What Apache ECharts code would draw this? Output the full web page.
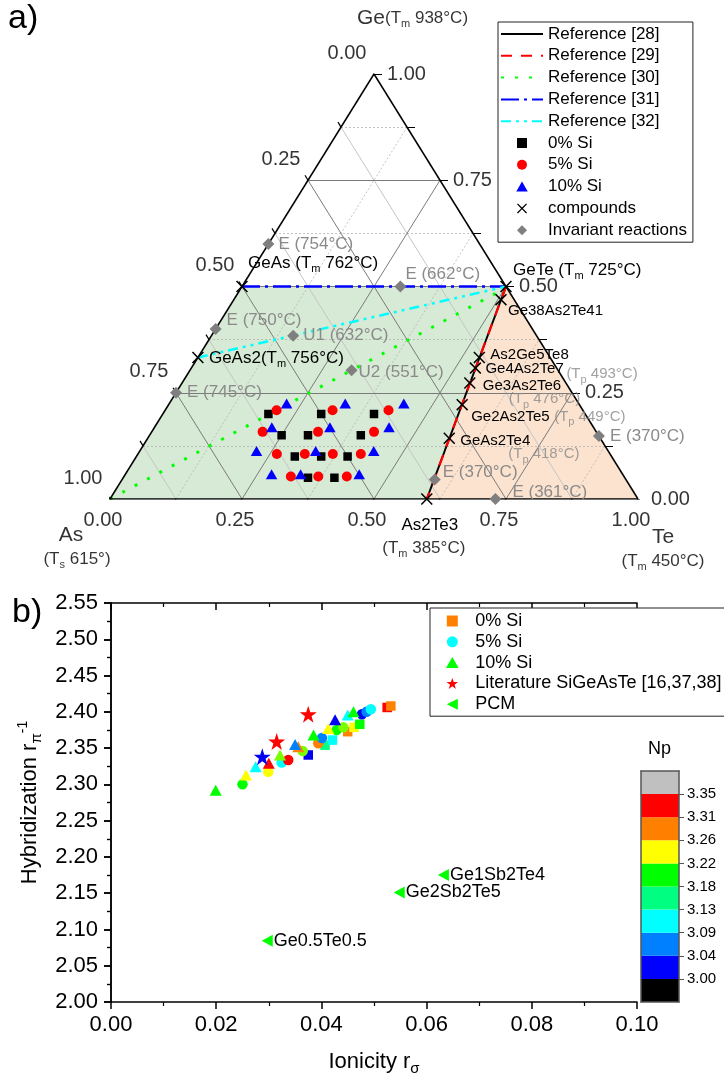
<!DOCTYPE html>
<html>
<head>
<meta charset="utf-8">
<title>GeAsTe ternary / hybridization map</title>
<script src="https://cdn.jsdelivr.net/npm/echarts@6/dist/echarts.min.js"></script>
<style>
html,body{margin:0;background:#fff;overflow:hidden;}
.pane{position:absolute;left:0;top:0;width:724px;height:1082px;}
#scat{width:780px;}
</style>
</head>
<body>
<div id="tern" class="pane"></div>
<div id="scat" class="pane"></div>
<script>
var FONT = 'Liberation Sans, Arial, sans-serif';

// ---------- a) ternary, compositions are [Ge, Te] fractions (As = 1 - Ge - Te)
var si0 = [[0.20,0.20],[0.15,0.25],[0.20,0.30],[0.15,0.30],[0.10,0.30],[0.10,0.35],[0.05,0.35],[0.05,0.40],[0.10,0.40],[0.15,0.40],[0.20,0.40]];
var si5 = [[0.209,0.211],[0.158,0.210],[0.158,0.315],[0.209,0.317],[0.209,0.423],[0.158,0.421],[0.106,0.263],[0.106,0.316],[0.106,0.369],[0.106,0.422],[0.053,0.316],[0.053,0.368],[0.053,0.422]];
var si10 = [[0.225,0.222],[0.169,0.222],[0.113,0.221],[0.058,0.277],[0.058,0.332],[0.113,0.333],[0.169,0.332],[0.225,0.333],[0.225,0.444],[0.169,0.444],[0.113,0.443],[0.058,0.443]];

var compoundNames = ['GeAs','GeAs2','GeTe','Ge38As2Te41','As2Ge5Te8','Ge4As2Te7','Ge3As2Te6','Ge2As2Te5','GeAs2Te4','As2Te3'];
var compounds = [[0.5,0],[0.333,0],[0.5,0.5],[0.469,0.506],[0.333,0.533],[0.308,0.538],[0.273,0.545],[0.222,0.556],[0.143,0.571],[0,0.6]];
var compoundTm = ['762°C','756°C','725°C','','','','','','','385°C'];
var compoundTp = ['','','','','','493°C','476°C','449°C','418°C',''];

var invNames = ['E','E','E','U1','U2','E','E','E','E'];
var invTemps = ['754°C','662°C','750°C','632°C','551°C','745°C','370°C','370°C','361°C'];
var invariant = [[0.6,0],[0.5,0.3],[0.4,0],[0.384,0.155],[0.303,0.306],[0.25,0],[0.148,0.852],[0.046,0.592],[0,0.73]];

var ref28 = [[0.5,0.5],[0,0.6]];
var ref29 = [[0.5,0.5],[0,0.6]];
var ref30 = [[0,0],[0.49,0.495]];
var ref31 = [[0.5,0],[0.5,0.5]];
var ref32 = [[0.333,0],[0.5,0.5]];

var greenRegion = [[0,0],[0.5,0],[0.5,0.5],[0,0.6]];
var peachRegion = [[0.5,0.5],[0,1],[0,0.6]];

var majorTicks = [0.25,0.5,0.75];
var minorTicks = [0.125,0.375,0.625,0.875];
var edgeTicks = [0,0.125,0.25,0.375,0.5,0.625,0.75,0.875,1];
var tickVals = [0,0.25,0.5,0.75,1];
var tickLabels = ['0.00','0.25','0.50','0.75','1.00'];

// ---------- b) scatter, [ionicity, hybridization, Np]
var np0 = [[0.0375,2.3405,3.02],[0.0407,2.354,3.153],[0.0421,2.361,3.11],[0.0450,2.3726,3.284],[0.0462,2.3786,3.24],[0.0473,2.3828,3.197],[0.0525,2.406,3.328],[0.0532,2.408,3.284]];
var np5 = [[0.0250,2.300,3.197],[0.0299,2.3174,3.24],[0.03245,2.330,3.11],[0.0337,2.3336,3.328],[0.03645,2.346,3.218],[0.0394,2.3566,3.284],[0.0401,2.364,3.066],[0.0429,2.375,3.197],[0.0442,2.3786,3.218],[0.0477,2.3966,3.02],[0.0486,2.400,3.066],[0.0494,2.4035,3.11]];
var np10 = [[0.0199,2.292,3.197],[0.02567,2.313,3.24],[0.0275,2.3243,3.11],[0.0300,2.329,3.328],[0.03213,2.3405,3.218],[0.0356,2.352,3.284],[0.0350,2.355,3.066],[0.0385,2.368,3.197],[0.0413,2.377,3.24],[0.0426,2.389,3.02],[0.0450,2.3956,3.11],[0.0461,2.400,3.197]];
var litStars = [[0.02876,2.338,3.02],[0.0315,2.359,3.328],[0.0375,2.3966,3.328]];
var pcmNames = ['Ge1Sb2Te4','Ge2Sb2Te5','Ge0.5Te0.5'];
var pcm = [[0.0632,2.175],[0.0548,2.151],[0.0297,2.0845]];

var cbColors = ['#000000','#0000ff','#0080ff','#00ffff','#00ff80','#00ff00','#ffff00','#ff8000','#ff0000','#c0c0c0'];
var cbTicks = ['3.00','3.04','3.09','3.13','3.18','3.22','3.26','3.31','3.35'];

// ---------- helpers
var W = 528, H = 425;
function tp(p){ return [p[1] + p[0] / 2, p[0]]; }
function seg(a, b){ return {coords: [tp(a), tp(b)]}; }
function tick(p, dx, dy){ var q = tp(p); return {coords: [q, [q[0] + dx / W, q[1] - dy / H]]}; }

var RICH = {
  s: {fontSize: 11, verticalAlign: 'bottom'},
  big: {fontSize: 21}
};

// symbols (paths keep their aspect in the legend)
var SQ = 'path://M0,0L10,0L10,10L0,10Z';
var TRI = 'path://M5,0L10,8.7L0,8.7Z';
var DIA = 'path://M5,0L10,5L5,10L0,5Z';
var XSYM = 'path://M0,1.1L1.1,0L6,4.9L10.9,0L12,1.1L7.1,6L12,10.9L10.9,12L6,7.1L1.1,12L0,10.9L4.9,6Z';
var STAR = 'path://M50,0L61.8,35.3L98.9,35.3L68.9,57.1L80.3,92.7L50,70.8L19.7,92.7L31.1,57.1L1.1,35.3L38.2,35.3Z';
var LTRI = 'path://M0,5L10,0L10,10Z';

function polygonSeries(region, fill){
  return {
    type: 'custom', silent: true, z: 1,
    data: region.map(tp),
    encode: {x: 0, y: 1},
    renderItem: function(params, api){
      if (params.dataIndex !== 0) return null;
      return {type: 'polygon', shape: {points: region.map(function(p){ return api.coord(tp(p)); })}, style: {fill: fill}};
    }
  };
}
function linesSeries(data, style, z){
  return {type: 'lines', coordinateSystem: 'cartesian2d', polyline: false, silent: true, z: z || 2, data: data,
    lineStyle: Object.assign({opacity: 1, curveness: 0}, style)};
}
function txt(p, text, dx, dy, align, extra){
  return {value: tp(p), label: Object.assign({formatter: text, offset: [dx, dy], align: align || 'left'}, extra || {})};
}

// grid lines
var majorLines = [], minorSolid = [], minorDot = [];
majorTicks.forEach(function(c){
  majorLines.push(seg([c,0],[c,1-c]), seg([0,c],[1-c,c]), seg([1-c,0],[0,1-c]));
});
minorTicks.forEach(function(c){
  minorDot.push(seg([c,0],[c,1-c]), seg([0,c],[1-c,c]));
  minorSolid.push(seg([1-c,0],[0,1-c]));
});
var frame = [seg([0,0],[1,0]), seg([1,0],[0,1]), seg([0,0],[0,1])];
var ticks = [];
edgeTicks.forEach(function(c){
  ticks.push(tick([0,c], -3, 5), tick([c,1-c], 8, 0), tick([1-c,0], -3, -5));
});

// text items
var GRAY = '#8a8a8a';
var texts = [];
tickVals.forEach(function(c, i){
  texts.push(txt([0,c], tickLabels[i], -7, 21, 'center', {fontSize: 20}));
  texts.push(txt([c,1-c], tickLabels[i], 13, 0, 'left', {fontSize: 20}));
  texts.push(txt([1-c,0], tickLabels[i], -27, -21, 'center', {fontSize: 20}));
});
texts.push(txt([1,0], '{big|Ge}(T{s|m} 938°C)', -17, -56, 'left'));
texts.push(txt([0,0], '{big|As}', -39, 36, 'center'));
texts.push(txt([0,0], '(T{s|s} 615°)', -33, 60, 'center'));
texts.push(txt([0,1], '{big|Te}', 14, 38, 'left'));
texts.push(txt([0,1], '(T{s|m} 450°C)', 25, 62, 'center'));

var compLabelPos = [[6,-23],[11,1],[7,-16],[7,11],[11,-3],[10,1],[13,3],[9,12],[11,3],[3,26]];
var tpLabelPos = {5: [91,6], 6: [39,16], 7: [92,12], 8: [59,16]};
var compData = compounds.map(function(p, i){
  var name = compoundNames[i], lab;
  if (i === 9) {
    texts.push(txt(p, '(T{s|m} ' + compoundTm[i] + ')', -3, 49, 'center'));
    lab = {formatter: name, offset: compLabelPos[i], align: 'center'};
  } else if (compoundTm[i]) {
    lab = {formatter: name + (i === 1 ? '' : ' ') + '(T{s|m} ' + compoundTm[i] + ')', offset: compLabelPos[i], align: 'left'};
  } else {
    lab = {formatter: name, offset: compLabelPos[i], align: 'left', fontSize: 15};
  }
  if (compoundTp[i]) {
    texts.push(txt(p, '(T{s|p} ' + compoundTp[i] + ')', tpLabelPos[i][0], tpLabelPos[i][1], 'left', {color: GRAY, fontSize: 15}));
  }
  return {value: tp(p), label: lab};
});
var invLabelPos = [[10,0],[5,-12],[11,-9],[10,0],[7,2],[11,0],[11,0],[8,-7],[17,-7]];
var invData = invariant.map(function(p, i){
  return {value: tp(p), label: {formatter: invNames[i] + ' (' + invTemps[i] + ')', offset: invLabelPos[i], align: 'left'}};
});

var baseLabel = {show: true, position: 'inside', verticalAlign: 'middle', color: '#000', fontSize: 17, lineHeight: 22, fontFamily: FONT, rich: RICH};

function refLine(name, data, color, width, type){
  return {name: name, type: 'line', data: data.map(tp), symbol: 'none', z: 3, silent: true,
    lineStyle: {color: color, width: width, type: type}, itemStyle: {color: color}};
}
function lineLegend(name){ return {name: name, itemStyle: {opacity: 0}}; }

var chartT = echarts.init(document.getElementById('tern'));
chartT.setOption({
  animation: false,
  textStyle: {fontFamily: FONT},
  grid: {left: 110, top: 74, width: W, height: H},
  xAxis: {type: 'value', min: 0, max: 1, show: false},
  yAxis: {type: 'value', min: 0, max: 1, show: false},
  graphic: [{type: 'text', left: 8, top: 2, style: {text: 'a)', fontSize: 34, fill: '#000', fontFamily: FONT}}],
  legend: {
    orient: 'vertical', left: 498, top: 22, itemWidth: 42, itemHeight: 10, itemGap: 1.8,
    padding: [2, 6, 2, 2], backgroundColor: '#fff', borderColor: '#222', borderWidth: 1,
    textStyle: {fontSize: 17, lineHeight: 20, color: '#000', fontFamily: FONT},
    data: [lineLegend('Reference [28]'), lineLegend('Reference [29]'), lineLegend('Reference [30]'), lineLegend('Reference [31]'), lineLegend('Reference [32]'),
      '0% Si','5% Si','10% Si','compounds','Invariant reactions']
  },
  series: [
    polygonSeries(greenRegion, '#d7ead5'),
    polygonSeries(peachRegion, '#fbe3cf'),
    linesSeries(minorDot, {color: '#b4b4b4', width: 0.8, type: [2, 2]}),
    linesSeries(minorSolid, {color: '#c4c4c4', width: 1}),
    linesSeries(majorLines, {color: '#7a7a7a', width: 1}),
    linesSeries(frame, {color: '#000', width: 1.5}, 4),
    linesSeries(ticks, {color: '#000', width: 1.2}, 4),
    refLine('Reference [28]', ref28, '#000000', 2, 'solid'),
    refLine('Reference [29]', ref29, '#ff0000', 2.2, [11, 9]),
    refLine('Reference [30]', ref30, '#00ff00', 3, [3, 11]),
    refLine('Reference [31]', ref31, '#0000ff', 2.5, [18, 5, 3, 5]),
    refLine('Reference [32]', ref32, '#00ffff', 2.5, [10, 5, 3, 5, 3, 5]),
    {name: '0% Si', type: 'scatter', z: 5, symbol: SQ, symbolSize: 8.5, data: si0.map(tp), itemStyle: {color: '#000', opacity: 1}},
    {name: '5% Si', type: 'scatter', z: 5, symbol: 'circle', symbolSize: 10, data: si5.map(tp), itemStyle: {color: '#ff0000', opacity: 1}},
    {name: '10% Si', type: 'scatter', z: 5, symbol: TRI, symbolSize: [11.5, 10], data: si10.map(tp), itemStyle: {color: '#0000ff', opacity: 1}},
    {name: 'compounds', type: 'scatter', z: 6, symbol: XSYM, symbolSize: 12, data: compData, itemStyle: {color: '#000', opacity: 1},
      label: baseLabel},
    {name: 'Invariant reactions', type: 'scatter', z: 6, symbol: DIA, symbolSize: 12, data: invData, itemStyle: {color: '#7f7f7f', opacity: 1},
      label: Object.assign({}, baseLabel, {color: GRAY})},
    {name: '_text', type: 'scatter', z: 7, symbolSize: 0, silent: true, data: texts, label: baseLabel}
  ]
});

// ---------- b)
var axisBase = {
  axisLine: {lineStyle: {color: '#000', width: 1.5}},
  axisTick: {length: 7, lineStyle: {color: '#000', width: 1.5}},
  minorTick: {show: true, splitNumber: 2, length: 4, lineStyle: {color: '#000', width: 1.2}},
  splitLine: {show: false}
};
function ax(extra){ return Object.assign({}, JSON.parse(JSON.stringify(axisBase)), extra); }
var fmt2 = function(v){ return v.toFixed(2); };

function cbBar(c){ return {type: 'bar', xAxisIndex: 2, yAxisIndex: 2, stack: 'cb', data: [1], barWidth: '100%', silent: true, itemStyle: {color: c}, z: 2}; }

var chartS = echarts.init(document.getElementById('scat'));
chartS.setOption({
  animation: false,
  textStyle: {fontFamily: FONT},
  grid: [
    {left: 111, top: 603, width: 526, height: 399},
    {left: 641, top: 771, width: 38, height: 231}
  ],
  xAxis: [
    ax({gridIndex: 0, type: 'value', min: 0, max: 0.1, interval: 0.02,
      name: 'Ionicity r{s|σ}', nameLocation: 'middle', nameGap: 46,
      nameTextStyle: {fontSize: 22, color: '#000', lineHeight: 28, rich: {s: {fontSize: 15, verticalAlign: 'bottom'}}},
      axisLabel: {fontSize: 22, color: '#000', margin: 12, formatter: fmt2}}),
    ax({gridIndex: 0, type: 'value', min: 0, max: 0.1, interval: 0.02, position: 'top',
      axisTick: {inside: true, length: 7, lineStyle: {color: '#000', width: 1.5}}, axisLabel: {show: false}}),
    {gridIndex: 1, type: 'category', data: ['Np'], show: false},
    {gridIndex: 1, type: 'category', data: ['Np'], position: 'bottom', z: 10, axisLine: {lineStyle: {color: '#555', width: 1.5}}, axisTick: {show: false}, axisLabel: {show: false}},
    {gridIndex: 1, type: 'category', data: ['Np'], position: 'top', z: 10, axisLine: {lineStyle: {color: '#555', width: 1.5}}, axisTick: {show: false}, axisLabel: {show: false}}
  ],
  yAxis: [
    ax({gridIndex: 0, type: 'value', min: 2, max: 2.55, interval: 0.05,
      name: 'Hybridization r{s|π}{p|-1}', nameLocation: 'middle', nameGap: 64,
      nameTextStyle: {fontSize: 22, color: '#000', lineHeight: 28, rich: {s: {fontSize: 15, verticalAlign: 'bottom'}, p: {fontSize: 14, verticalAlign: 'top'}}},
      axisLabel: {fontSize: 22, color: '#000', margin: 13, formatter: fmt2}}),
    ax({gridIndex: 0, type: 'value', min: 2, max: 2.55, interval: 0.05, position: 'right',
      axisTick: {inside: true, length: 7, lineStyle: {color: '#000', width: 1.5}}, axisLabel: {show: false}}),
    {gridIndex: 1, type: 'value', min: 0, max: 10, interval: 1, position: 'right', z: 10,
      axisLine: {show: true, lineStyle: {color: '#555', width: 1.5}},
      axisTick: {show: true, length: 5, customValues: [1,2,3,4,5,6,7,8,9], lineStyle: {color: '#555'}},
      axisLabel: {fontSize: 15, color: '#000', margin: 8, customValues: [1,2,3,4,5,6,7,8,9], formatter: function(v){ return cbTicks[v - 1]; }},
      splitLine: {show: false}},
    {gridIndex: 1, type: 'value', min: 0, max: 10, position: 'left', z: 10,
      axisLine: {show: true, lineStyle: {color: '#555', width: 1.5}}, axisTick: {show: false}, axisLabel: {show: false}, splitLine: {show: false}}
  ],
  visualMap: {type: 'continuous', show: false, dimension: 2, seriesIndex: [0, 1, 2, 3], min: 2.978, max: 3.372, inRange: {color: cbColors}},
  graphic: [
    {type: 'text', left: 12, top: 596, style: {text: 'b)', fontSize: 34, fill: '#000', fontFamily: FONT}},
    {type: 'text', left: 648, top: 740, style: {text: 'Np', fontSize: 18, fill: '#000', fontFamily: FONT}}
  ],
  legend: {
    orient: 'vertical', left: 430, top: 608, itemWidth: 36, itemHeight: 11, itemGap: 0.8,
    padding: [3, 14, 2, 16], backgroundColor: '#fff', borderColor: '#222', borderWidth: 1,
    textStyle: {fontSize: 18, lineHeight: 20, color: '#000', fontFamily: FONT},
    data: ['0% Si', '5% Si', '10% Si', 'Literature SiGeAsTe [16,37,38]', 'PCM']
  },
  series: [
    {name: '0% Si', type: 'scatter', symbol: SQ, symbolSize: 9.5, data: np0, itemStyle: {color: '#ff8000', opacity: 1}},
    {name: '5% Si', type: 'scatter', symbol: 'circle', symbolSize: 10.5, data: np5, itemStyle: {color: '#00ffff', opacity: 1}},
    {name: '10% Si', type: 'scatter', symbol: TRI, symbolSize: [12, 11], data: np10, itemStyle: {color: '#00ff00', opacity: 1}},
    {name: 'Literature SiGeAsTe [16,37,38]', type: 'scatter', symbol: STAR, symbolSize: 17, data: litStars, itemStyle: {color: '#ff0000', opacity: 1}},
    {name: 'PCM', type: 'scatter', symbol: LTRI, symbolSize: [11, 12], itemStyle: {color: '#00ff00', opacity: 1},
      data: pcm.map(function(p, i){ return {name: pcmNames[i], value: p}; }),
      label: {show: true, position: 'right', distance: 1, formatter: '{b}', fontSize: 18, color: '#000', fontFamily: FONT}}
  ].concat(cbColors.map(cbBar))
});
</script>
</body>
</html>
